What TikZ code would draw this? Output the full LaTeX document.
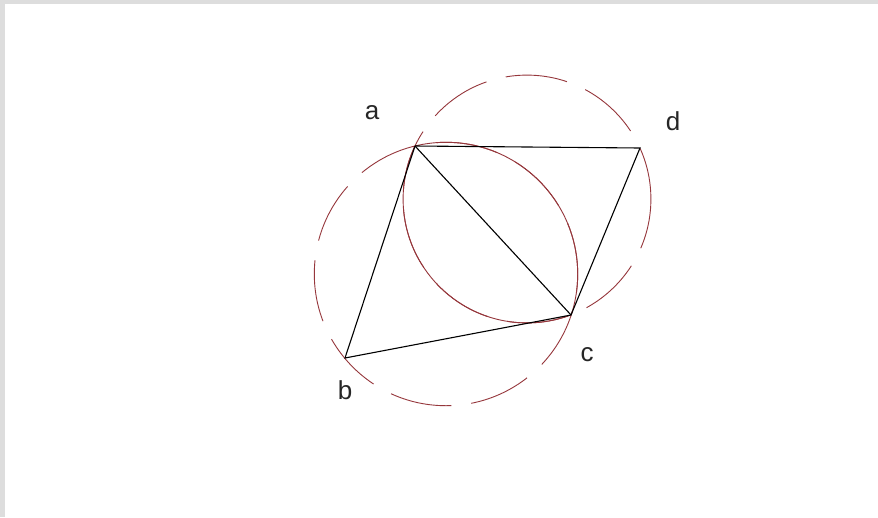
\documentclass[tikz,border=0pt]{standalone}
\usepackage{fontspec}
\setmainfont{Liberation Sans}
\definecolor{arcred}{RGB}{150,55,60}
\definecolor{framegray}{RGB}{221,221,221}

\begin{document}
\begin{tikzpicture}[x=1pt, y=-1pt,
        circ/.style={draw=arcred, line width=0.9pt},
        outer/.style={circ, dash pattern=on 62pt off 20pt, dash phase=10pt},
        edge/.style={black, line width=1.1pt},
        lab/.style={font=\fontsize{26}{26}\selectfont, inner sep=0pt, text=black!85}]
      % frame of the picture
      \fill[framegray] (0,0) rectangle (878,517);
      \fill[white] (5,4) rectangle (878,517);
      \useasboundingbox (0,0) rectangle (878,517);
      % the four points and the two centres
      \coordinate (a) at (415,146);
      \coordinate (b) at (345,358);
      \coordinate (c) at (571,315);
      \coordinate (d) at (640,148);
      \coordinate (ol) at (446,274);
      \coordinate (or) at (527,199);
      % circles: dashed outside, solid inside the other one
      \draw[outer] (ol) circle (131.7pt);
      \draw[outer] (or) circle (123.9pt);
      \begin{scope}
        \clip (or) circle (123.9pt);
        \draw[circ] (ol) circle (131.7pt);
      \end{scope}
      \begin{scope}
        \clip (ol) circle (131.7pt);
        \draw[circ] (or) circle (123.9pt);
      \end{scope}
      % quadrilateral and diagonal
      \draw[edge] (a) -- (b) -- (c) -- (d) -- (a);
      \draw[edge] (a) -- (c);
      \node[lab] (la) at (372,113) {a};
      \node[lab] (lb) at (345,390) {b};
      \node[lab] (lc) at (587,355) {c};
      \node[lab] (ld) at (673,121) {d};
    \end{tikzpicture}
\end{document}
